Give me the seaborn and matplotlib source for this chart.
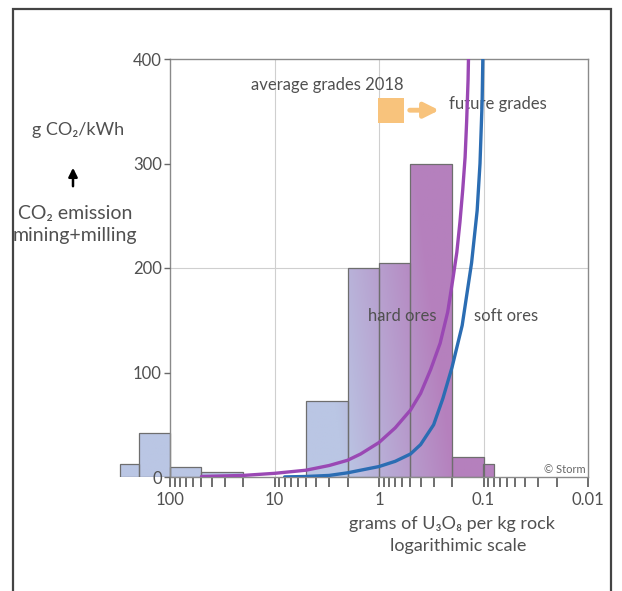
import numpy as np
import pandas as pd
import matplotlib
matplotlib.use("Agg")
import matplotlib.pyplot as plt
import seaborn as sns
from matplotlib.patches import Rectangle, FancyArrowPatch
from matplotlib.image import BboxImage
from matplotlib.transforms import Bbox, TransformedBbox
from matplotlib.ticker import FixedLocator, NullFormatter

# ---------------- data ----------------
# histogram of ore grades (g U3O8 per kg rock), bars left -> right
left_edges = [300, 200, 100, 50, 20]
left_heights = [12, 42, 10, 5]
right_edges = [5, 2, 1, 0.5, 0.2, 0.1, 0.08]
right_heights = [73, 200, 205, 300, 19, 12]

# CO2 emission curves (g CO2/kWh) vs ore grade
hard_grade = [50, 20, 10, 5, 3, 2, 1.5, 1, 0.7, 0.5, 0.4, 0.32, 0.26, 0.22, 0.196,
              0.18, 0.168, 0.158, 0.15, 0.145, 0.1405, 0.138]
hard_co2 = [0.5, 1.5, 3.5, 6.5, 11, 16, 22, 33, 47, 64, 80, 103, 128, 158, 190,
            215, 244, 275, 306, 340, 380, 420]
soft_grade = [8, 5, 3, 2, 1.5, 1, 0.7, 0.5, 0.4, 0.3, 0.245, 0.2, 0.16, 0.13,
              0.115, 0.108, 0.103, 0.1]
soft_co2 = [0.1, 0.5, 1.5, 4, 6.5, 10, 15, 22, 31, 50, 75, 105, 145, 205,
            255, 300, 360, 440]

y_ticks = [0, 100, 200, 300, 400]
x_ticks = [100, 10, 1, 0.1, 0.01]
x_tick_labels = ["100", "10", "1", "0.1", "0.01"]
x_minor_ticks = [k * 10.0 ** e for e in range(-2, 2) for k in range(2, 10)]

# ---------------- style ----------------
sns.set_style("ticks")
plt.rcParams["font.family"] = ["Lato", "DejaVu Sans"]
TXT = "#505050"

W, H = 622, 591
fig = plt.figure(figsize=(W / 100, H / 100), dpi=100)
L, R, T, B = 110, 588, 59, 477
ax = fig.add_axes([L / W, (H - B) / H, (R - L) / W, (B - T) / H])
ax.set_xscale("log")


def hist_frame(edges, heights):
    lo = np.array(edges[1:], dtype=float)
    hi = np.array(edges[:-1], dtype=float)
    df = pd.DataFrame({"grade": np.sqrt(lo * hi), "co2": np.array(heights, dtype=float)})
    bins = [float(v) for v in np.log10(sorted(edges))]
    return df, bins


for edges, heights in [(left_edges, left_heights), (right_edges, right_heights)]:
    df, bins = hist_frame(edges, heights)
    sns.histplot(data=df, x="grade", weights="co2", bins=bins, log_scale=True,
                 ax=ax, fill=True, color="#b9c6e4", edgecolor="#6e6e6e",
                 linewidth=0.9, alpha=1, zorder=2)

# gradient fill (blue -> purple) clipped to each bar
ny, nx = 200, 400
fx = np.linspace(0, 1, nx)[None, :]
fy = np.linspace(0, 1, ny)[:, None]
t = (L + (R - L) * fx - 345) / 110 + fy * (B - T) / 420 * 0.5
t = np.clip(t, 0, 1)[..., None]
c0 = np.array([186, 198, 228]) / 255
c1 = np.array([181, 128, 189]) / 255
grad = c0 * (1 - t) + c1 * t
for p in list(ax.patches):
    p.set_facecolor("none")
    bb = TransformedBbox(Bbox([[0, 0], [1, 1]]), ax.transAxes)
    im = BboxImage(bb, interpolation="bilinear", origin="lower")
    im.set_data(grad)
    im.set_zorder(1.8)
    ax.add_artist(im)
    im.set_clip_path(p)

# curves
sns.lineplot(x=hard_grade, y=hard_co2, ax=ax, color="#9a48b4", linewidth=2.4, zorder=4)
sns.lineplot(x=soft_grade, y=soft_co2, ax=ax, color="#2b6db3", linewidth=2.4, zorder=4)

# grid lines
ax.vlines([10, 1, 0.1], 0, 400, color="#cfcfcf", linewidth=0.8, zorder=0.5)
ax.hlines(200, 100, 0.01, color="#cfcfcf", linewidth=0.8, zorder=0.5)

ax.set_xlim(10 ** (-2 + (R - L) / 104.5), 0.01)
ax.set_ylim(0, 400)

# spines
for s in ["top", "right", "bottom", "left"]:
    ax.spines[s].set_color("#8a8a8a")
    ax.spines[s].set_linewidth(1.0)
ax.spines["left"].set_position(("data", 100))
ax.spines["top"].set_bounds(0.01, 100)
ax.spines["bottom"].set_bounds(0.01, 100)

ax.yaxis.set_major_locator(FixedLocator(y_ticks))
ax.set_yticklabels([str(v) for v in y_ticks])
ax.xaxis.set_major_locator(FixedLocator(x_ticks))
ax.set_xticklabels(x_tick_labels)
ax.xaxis.set_minor_locator(FixedLocator(x_minor_ticks))
ax.xaxis.set_minor_formatter(NullFormatter())
ax.tick_params(axis="y", length=4, width=1, color="#6a6a6a", labelsize=12, labelcolor=TXT, pad=2)
ax.tick_params(axis="x", which="both", length=7, width=1.2, color="#555555",
               labelsize=12, labelcolor=TXT, pad=4)
ax.yaxis.set_zorder(5)
ax.set_xlabel("")
ax.set_ylabel("")

# annotations
ax.text(3.15, 375, "average grades 2018", ha="center", va="center", fontsize=12, color=TXT)
ax.add_patch(Rectangle((0.577, 339), 1.02 - 0.577, 24, facecolor="#f8c37c", edgecolor="none", zorder=3))
ax.annotate("", xy=(0.25, 351), xytext=(0.54, 351),
            arrowprops=dict(arrowstyle="-|>", color="#f8c37c", lw=3.5, mutation_scale=22), zorder=3)
ax.text(0.215, 357, "future grades", ha="left", va="center", fontsize=12, color=TXT)
ax.text(0.60, 154, "hard ores", ha="center", va="center", fontsize=12, color=TXT, zorder=5)
ax.text(0.061, 154, "soft ores", ha="center", va="center", fontsize=12, color=TXT, zorder=5)
ax.text(0.996, 0.017, "© Storm", transform=ax.transAxes, ha="right", va="center",
        fontsize=8, color="#666666")

# figure texts
fig.text(78 / W, 1 - 130 / H, "g CO₂/kWh", ha="center", va="center", fontsize=13, color=TXT)
fig.text(75 / W, 1 - 213 / H, "CO₂ emission", ha="center", va="center", fontsize=14, color=TXT)
fig.text(75 / W, 1 - 236 / H, "mining+milling", ha="center", va="center", fontsize=14, color=TXT)
fig.add_artist(FancyArrowPatch((73 / W, 1 - 189 / H), (73 / W, 1 - 165 / H),
               transform=fig.transFigure, arrowstyle="-|>", mutation_scale=13, color="black", lw=1.8))
fig.text(452 / W, 1 - 524 / H, "grams of U₃O₈ per kg rock", ha="center", va="center",
         fontsize=13, color=TXT)
fig.text(458 / W, 1 - 546 / H, "logarithimic scale", ha="center", va="center", fontsize=13, color=TXT)

# outer frame
fig.add_artist(Rectangle((13 / W, -0.1), (611 - 13) / W, (H - 9) / H + 0.1, transform=fig.transFigure,
                         fill=False, edgecolor="#444444", linewidth=1.6))

fig.savefig("out.png", dpi=100)
